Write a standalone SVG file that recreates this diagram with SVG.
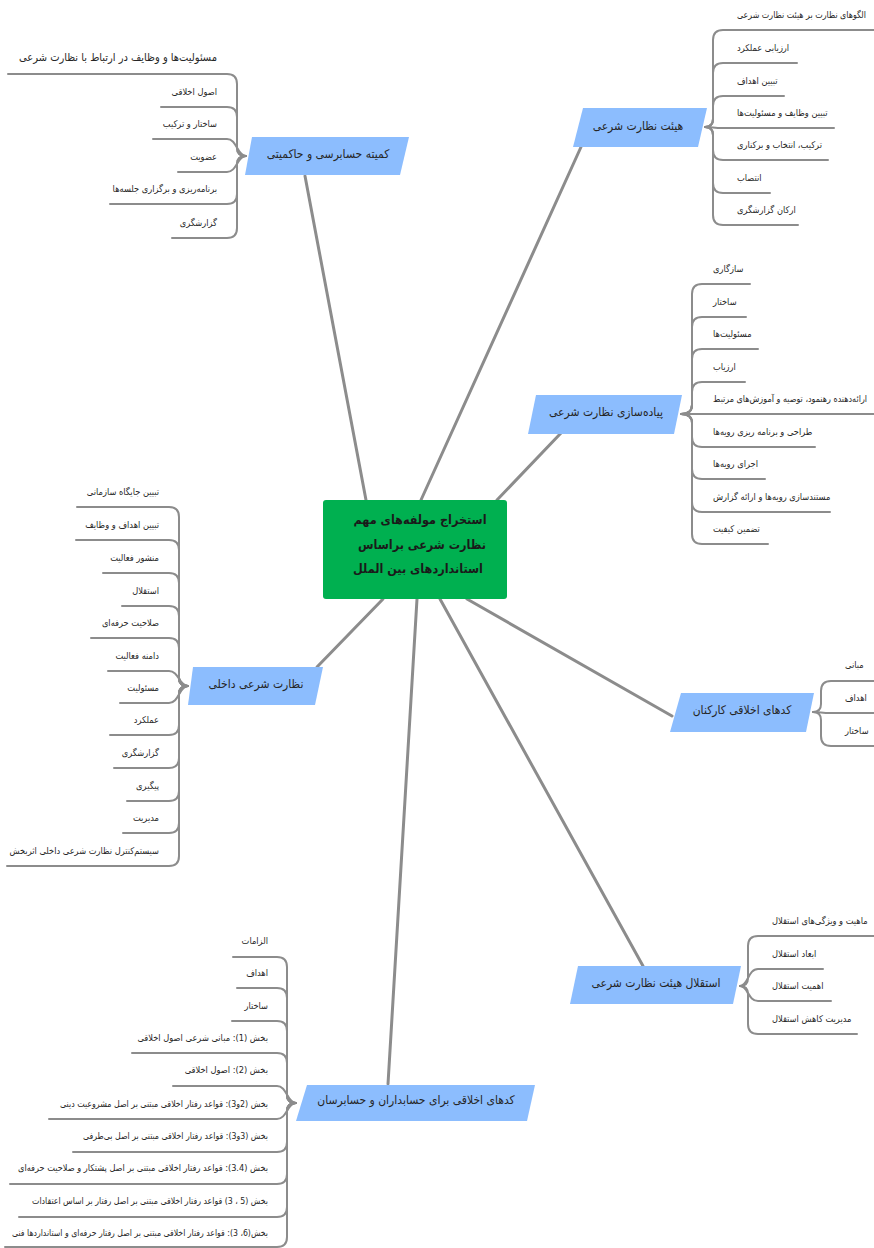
<svg xmlns="http://www.w3.org/2000/svg" width="874" height="1248" viewBox="0 0 874 1248">
<style>
.bg{fill:#ffffff}
.main{fill:none;stroke:#8c8c8c;stroke-width:3;stroke-linecap:round}
.br{fill:none;stroke:#8c8c8c;stroke-width:2;stroke-linecap:round;stroke-linejoin:round}
.node{fill:#8cbdfe}
.center{fill:#00b050}
text{font-family:"DejaVu Sans Condensed","DejaVu Sans",sans-serif;font-stretch:condensed;fill:#262626;direction:rtl}
.cl{font-size:9.2px;text-anchor:end}
.cr{font-size:9.2px;text-anchor:start}
.nt{font-size:12px;text-anchor:middle}
.ct{font-size:12.5px;font-weight:bold;text-anchor:middle;fill:#1a1a1a}
</style>
<rect class="bg" x="0" y="0" width="874" height="1248"/>
<g id="connectors">
<line class="main" x1="421" y1="500" x2="581" y2="147"/>
<line class="main" x1="497" y1="500" x2="561" y2="433"/>
<line class="main" x1="366" y1="500" x2="305" y2="176"/>
<line class="main" x1="383" y1="599" x2="317" y2="667"/>
<line class="main" x1="467" y1="599" x2="672" y2="716"/>
<line class="main" x1="440" y1="599" x2="643" y2="966"/>
<line class="main" x1="417" y1="599" x2="388" y2="1084"/>
</g>
<g id="center">
<rect class="center" x="323" y="500" width="184" height="99" rx="3"/>
<text class="ct" x="420" y="524">استخراج مولفه‌های مهم</text>
<text class="ct" x="422" y="549">نظارت شرعی براساس</text>
<text class="ct" x="418" y="573">استانداردهای بین الملل</text>
</g>
<g id="n1">
<polygon class="node" points="583,108 707,108 698,147 573,147"/>
<text class="nt" x="638" y="130">هیئت نظارت شرعی</text>
<g id="n1-children">
<path class="br" d="M705 127 Q713 127 713 119 L713 40 Q713 30 723 30 L874 30"/>
<path class="br" d="M705 127 Q713 127 713 119 L713 73 Q713 63 723 63 L797 63"/>
<path class="br" d="M705 127 Q713 127 713 119 L713 106 Q713 96 723 96 L784 96"/>
<path class="br" d="M705 127 C713 127 713 128 723 128 L834 128"/>
<path class="br" d="M705 127 Q713 127 713 135 L713 150 Q713 160 723 160 L828 160"/>
<path class="br" d="M705 127 Q713 127 713 135 L713 183 Q713 193 723 193 L770 193"/>
<path class="br" d="M705 127 Q713 127 713 135 L713 215 Q713 225 723 225 L798 225"/>
<text class="cl" x="737" y="18" textLength="129" lengthAdjust="spacingAndGlyphs">الگوهای نظارت بر هیئت نظارت شرعی</text>
<text class="cl" x="737" y="51">ارزیابی عملکرد</text>
<text class="cl" x="737" y="84">تبیین اهداف</text>
<text class="cl" x="737" y="116">تبیین وظایف و مسئولیت‌ها</text>
<text class="cl" x="737" y="148">ترکیب، انتخاب و برکناری</text>
<text class="cl" x="737" y="181">انتصاب</text>
<text class="cl" x="737" y="213">ارکان گزارشگری</text>
</g>
</g>
<g id="n2">
<polygon class="node" points="536,395 682,395 674,434 528,434"/>
<text class="nt" x="606" y="416">پیاده‌سازی نظارت شرعی</text>
<g id="n2-children">
<path class="br" d="M681 414 Q692 414 692 405 L692 294 Q692 284 702 284 L750 284"/>
<path class="br" d="M681 414 Q692 414 692 405 L692 327 Q692 317 702 317 L746 317"/>
<path class="br" d="M681 414 Q692 414 692 405 L692 359 Q692 349 702 349 L758 349"/>
<path class="br" d="M681 414 Q692 414 692 405 L692 392 Q692 382 702 382 L745 382"/>
<path class="br" d="M681 414 L874 414"/>
<path class="br" d="M681 414 Q692 414 692 423 L692 437 Q692 447 702 447 L815 447"/>
<path class="br" d="M681 414 Q692 414 692 423 L692 469 Q692 479 702 479 L765 479"/>
<path class="br" d="M681 414 Q692 414 692 423 L692 502 Q692 512 702 512 L830 512"/>
<path class="br" d="M681 414 Q692 414 692 423 L692 534 Q692 544 702 544 L768 544"/>
<text class="cl" x="713" y="272">سازگاری</text>
<text class="cl" x="713" y="305">ساختار</text>
<text class="cl" x="713" y="337">مسئولیت‌ها</text>
<text class="cl" x="713" y="370">ارزیاب</text>
<text class="cl" x="713" y="402" textLength="154" lengthAdjust="spacingAndGlyphs">ارائه‌دهنده رهنمود، توصیه و آموزش‌های مرتبط</text>
<text class="cl" x="713" y="435">طراحی و برنامه ریزی رویه‌ها</text>
<text class="cl" x="713" y="467">اجرای رویه‌ها</text>
<text class="cl" x="713" y="500">مستندسازی رویه‌ها و ارائه گزارش</text>
<text class="cl" x="713" y="532">تضمین کیفیت</text>
</g>
</g>
<g id="n3">
<polygon class="node" points="252,137 409,137 400,175 245,175"/>
<text class="nt" x="328" y="158">کمیته حسابرسی و حاکمیتی</text>
<g id="n3-children">
<path class="br" d="M246 156 Q237 156 237 148 L237 84 Q237 74 227 74 L8 74"/>
<path class="br" d="M246 156 Q237 156 237 148 L237 117 Q237 107 227 107 L161 107"/>
<path class="br" d="M246 156 C237 156 237 139 227 139 L153 139"/>
<path class="br" d="M246 156 C237 156 237 172 227 172 L178 172"/>
<path class="br" d="M246 156 Q237 156 237 164 L237 194 Q237 204 227 204 L110 204"/>
<path class="br" d="M246 156 Q237 156 237 164 L237 228 Q237 238 227 238 L172 238"/>
<text class="cr" x="217" y="61" style="font-size:11px">مسئولیت‌ها و وظایف در ارتباط با نظارت شرعی</text>
<text class="cr" x="217" y="95">اصول اخلاقی</text>
<text class="cr" x="217" y="127">ساختار و ترکیب</text>
<text class="cr" x="217" y="160">عضویت</text>
<text class="cr" x="217" y="192">برنامه‌ریزی و برگزاری جلسه‌ها</text>
<text class="cr" x="217" y="226">گزارشگری</text>
</g>
</g>
<g id="n4">
<polygon class="node" points="193,667 323,667 315,705 188,705"/>
<text class="nt" x="256" y="688">نظارت شرعی داخلی</text>
<g id="n4-children">
<path class="br" d="M188 686 Q179 686 179 678 L179 517 Q179 507 169 507 L77 507"/>
<path class="br" d="M188 686 Q179 686 179 678 L179 550 Q179 540 169 540 L76 540"/>
<path class="br" d="M188 686 Q179 686 179 678 L179 583 Q179 573 169 573 L103 573"/>
<path class="br" d="M188 686 Q179 686 179 678 L179 616 Q179 606 169 606 L122 606"/>
<path class="br" d="M188 686 Q179 686 179 678 L179 648 Q179 638 169 638 L91 638"/>
<path class="br" d="M188 686 C179 686 179 671 169 671 L108 671"/>
<path class="br" d="M188 686 C179 686 179 703 169 703 L120 703"/>
<path class="br" d="M188 686 Q179 686 179 694 L179 725 Q179 735 169 735 L110 735"/>
<path class="br" d="M188 686 Q179 686 179 694 L179 758 Q179 768 169 768 L114 768"/>
<path class="br" d="M188 686 Q179 686 179 694 L179 791 Q179 801 169 801 L127 801"/>
<path class="br" d="M188 686 Q179 686 179 694 L179 823 Q179 833 169 833 L123 833"/>
<path class="br" d="M188 686 Q179 686 179 694 L179 856 Q179 866 169 866 L7 866"/>
<text class="cr" x="159" y="495">تبیین جایگاه سازمانی</text>
<text class="cr" x="159" y="528">تبیین اهداف و وظایف</text>
<text class="cr" x="159" y="561">منشور فعالیت</text>
<text class="cr" x="159" y="594">استقلال</text>
<text class="cr" x="159" y="626">صلاحیت حرفه‌ای</text>
<text class="cr" x="159" y="659">دامنه فعالیت</text>
<text class="cr" x="159" y="691">مسئولیت</text>
<text class="cr" x="159" y="723">عملکرد</text>
<text class="cr" x="159" y="756">گزارشگری</text>
<text class="cr" x="159" y="789">پیگیری</text>
<text class="cr" x="159" y="821">مدیریت</text>
<text class="cr" x="159" y="854">سیستم‌کنترل نظارت شرعی داخلی اثربخش</text>
</g>
</g>
<g id="n5">
<polygon class="node" points="681,693 814,693 806,732 670,732"/>
<text class="nt" x="742" y="714">کدهای اخلاقی کارکنان</text>
<g id="n5-children">
<path class="br" d="M813 712 Q821 712 821 704 L821 691 Q821 681 831 681 L874 681"/>
<path class="br" d="M813 712 C821 712 821 713 831 713 L874 713"/>
<path class="br" d="M813 712 Q821 712 821 720 L821 736 Q821 746 831 746 L874 746"/>
<text class="cl" x="845" y="668">مبانی</text>
<text class="cl" x="845" y="701">اهداف</text>
<text class="cl" x="845" y="734">ساختار</text>
</g>
</g>
<g id="n6">
<polygon class="node" points="578,966 741,966 733,1004 570,1004"/>
<text class="nt" x="656" y="987">استقلال هیئت نظارت شرعی</text>
<g id="n6-children">
<path class="br" d="M740 986 Q748 986 748 978 L748 946 Q748 936 758 936 L874 936"/>
<path class="br" d="M740 986 C748 986 748 969 758 969 L823 969"/>
<path class="br" d="M740 986 C748 986 748 1001 758 1001 L831 1001"/>
<path class="br" d="M740 986 Q748 986 748 994 L748 1024 Q748 1034 758 1034 L857 1034"/>
<text class="cl" x="772" y="924">ماهیت و ویژگی‌های استقلال</text>
<text class="cl" x="772" y="957">ابعاد استقلال</text>
<text class="cl" x="772" y="989">اهمیت استقلال</text>
<text class="cl" x="772" y="1022">مدیریت کاهش استقلال</text>
</g>
</g>
<g id="n7">
<polygon class="node" points="307,1085 535,1085 527,1121 296,1121"/>
<text class="nt" x="416" y="1104">کدهای اخلاقی برای حسابداران و حسابرسان</text>
<g id="n7-children">
<path class="br" d="M296 1103 Q287 1103 287 1095 L287 967 Q287 957 277 957 L233 957"/>
<path class="br" d="M296 1103 Q287 1103 287 1095 L287 998 Q287 988 277 988 L237 988"/>
<path class="br" d="M296 1103 Q287 1103 287 1095 L287 1031 Q287 1021 277 1021 L232 1021"/>
<path class="br" d="M296 1103 Q287 1103 287 1095 L287 1063 Q287 1053 277 1053 L132 1053"/>
<path class="br" d="M296 1103 C287 1103 287 1086 277 1086 L173 1086"/>
<path class="br" d="M296 1103 C287 1103 287 1119 277 1119 L49 1119"/>
<path class="br" d="M296 1103 Q287 1103 287 1111 L287 1142 Q287 1152 277 1152 L73 1152"/>
<path class="br" d="M296 1103 Q287 1103 287 1111 L287 1174 Q287 1184 277 1184 L10 1184"/>
<path class="br" d="M296 1103 Q287 1103 287 1111 L287 1207 Q287 1217 277 1217 L19 1217"/>
<path class="br" d="M296 1103 Q287 1103 287 1111 L287 1237 Q287 1247 277 1247 L5 1247"/>
<text class="cr" x="268" y="944">الزامات</text>
<text class="cr" x="268" y="976">اهداف</text>
<text class="cr" x="268" y="1009">ساختار</text>
<text class="cr" x="268" y="1041">بخش (1): مبانی شرعی اصول اخلاقی</text>
<text class="cr" x="268" y="1073">بخش (2): اصول اخلاقی</text>
<text class="cr" x="268" y="1107" textLength="208" lengthAdjust="spacingAndGlyphs">بخش (2و3): قواعد رفتار اخلاقی مبتنی بر اصل مشروعیت دینی</text>
<text class="cr" x="268" y="1139" textLength="185" lengthAdjust="spacingAndGlyphs">بخش (3و3): قواعد رفتار اخلاقی مبتنی بر اصل بی‌طرفی</text>
<text class="cr" x="268" y="1171" textLength="250" lengthAdjust="spacingAndGlyphs">بخش (3.4): قواعد رفتار اخلاقی مبتنی بر اصل پشتکار و صلاحیت حرفه‌ای</text>
<text class="cr" x="268" y="1204" textLength="236" lengthAdjust="spacingAndGlyphs">بخش (5 ، 3) قواعد رفتار اخلاقی مبتنی بر اصل رفتار بر اساس اعتقادات</text>
<text class="cr" x="268" y="1236" textLength="256" lengthAdjust="spacingAndGlyphs">بخش(6، 3): قواعد رفتار اخلاقی مبتنی بر اصل رفتار حرفه‌ای و استانداردها فنی</text>
</g>
</g>
</svg>
